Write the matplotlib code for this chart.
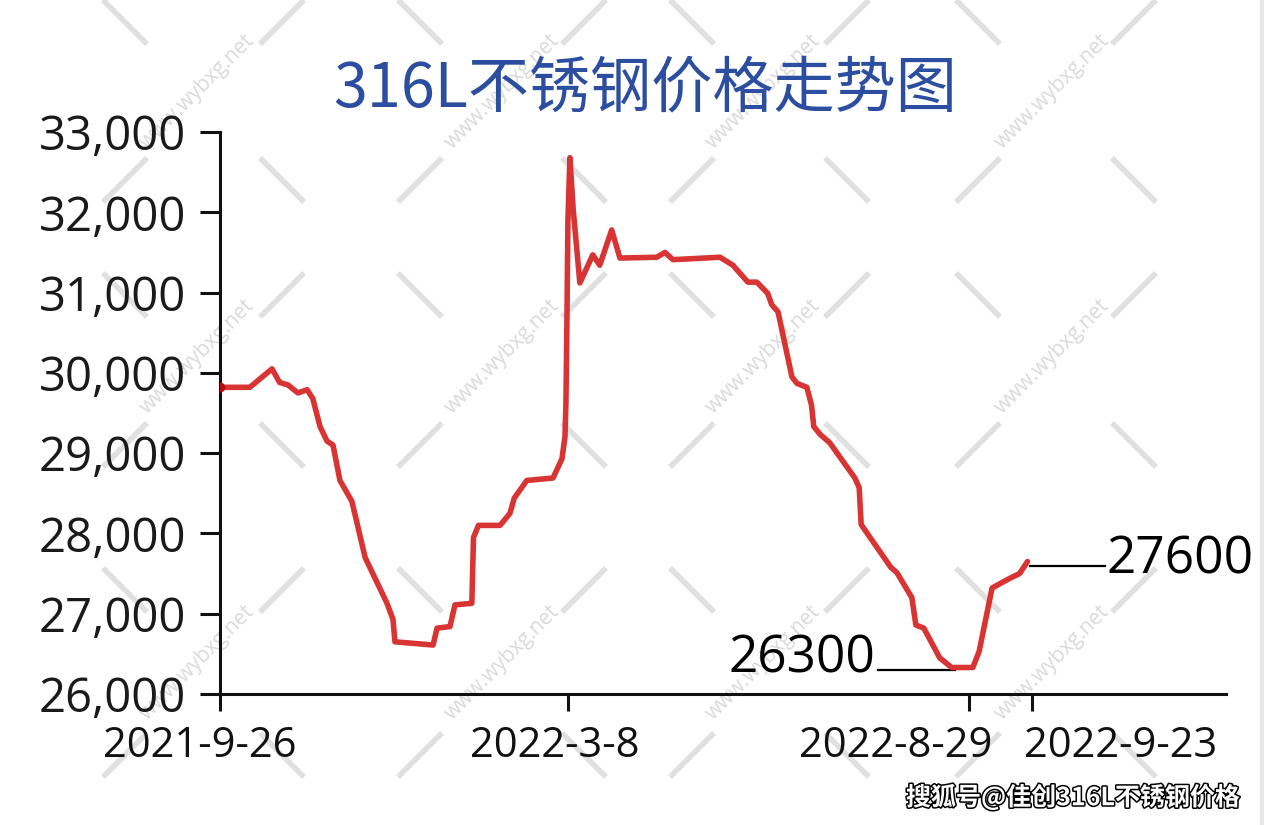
import matplotlib
matplotlib.use("Agg")
import matplotlib.pyplot as plt
import matplotlib.patheffects as pe
from matplotlib.transforms import ScaledTranslation

# ---------------- data ----------------
title = "316L不锈钢价格走势图"
footer = "搜狐号@佳创316L不锈钢价格"

# x = trading-day index from 2021-9-26
day_index = [0, 9, 15.7, 18, 20.5, 23.5, 26.3, 28, 30.2, 32.3, 34.1, 36.2, 39.8,
             43.8, 50.4, 52.2, 52.8, 64.3, 65.5, 69.4, 70.9, 76, 76.5, 78,
             84.5, 87.5, 88.8, 92.6, 100.5, 103.2, 104.1, 104.4, 104.7, 105.0,
             105.6, 106.6, 108.6, 112.5, 114.6, 118.2, 120.7, 131.8, 134.3,
             136.7, 150.9, 154.8, 159.3, 162, 165.3, 166.5, 168.4, 172.6, 174.1,
             177.1, 178.5, 179.2, 181.2, 184.0, 191.6, 192.9, 193.5, 202.4,
             204.3, 208.8, 210.0, 212.4, 217.2, 220.8, 227.2, 229.1, 233.0,
             238.3, 241.3, 243.7]
price = [29820, 29820, 30050, 29880, 29850, 29750, 29790, 29680, 29330, 29150,
         29100, 28660, 28400, 27700, 27130, 26930, 26650, 26610, 26820, 26840,
         27110, 27130, 27950, 28100, 28100, 28250, 28440, 28660, 28690, 28930,
         29200, 29620, 30660, 31900, 32680, 32030, 31120, 31470, 31340, 31780,
         31430, 31440, 31500, 31410, 31440, 31340, 31130, 31130, 30990, 30850,
         30760, 29950, 29870, 29820, 29600, 29330, 29230, 29130, 28690, 28570,
         28110, 27580, 27510, 27200, 26860, 26820, 26450, 26330, 26330, 26530,
         27320, 27440, 27500, 27650]

tick_pos = [0, 105, 226, 245]
tick_labels = ["2021-9-26", "2022-3-8", "2022-8-29", "2022-9-23"]
y_ticks = [26000, 27000, 28000, 29000, 30000, 31000, 32000, 33000]

low_value, high_value = 26300, 27600

# ---------------- layout ----------------
label_shift_px = [-20, -13, -73, 89]     # horizontal shift of x tick labels
low_line = (198.5, 221.8)
high_line = (244.4, 267.0)

W, H = 1266, 825
fig = plt.figure(figsize=(W / 100, H / 100), dpi=100)

# watermark layer (pixel coordinates)
wm = fig.add_axes([0, 0, 1, 1], zorder=0)
wm.set_xlim(0, W)
wm.set_ylim(H, 0)
wm.axis("off")
col_a = [125, 420, 692, 978]
col_b = [282, 584, 847, 1134]
rows = [22, 180, 295, 445, 590, 755]
d = 22
for r, y in enumerate(rows):
    for xa, xb in zip(col_a, col_b):
        for x, back in ((xa, r % 2 == 0), (xb, r % 2 == 1)):
            if back:
                wm.plot([x - d, x + d], [y - d, y + d], color="#e0e0e0", lw=4,
                        solid_capstyle="butt")
            else:
                wm.plot([x - d, x + d], [y + d, y - d], color="#e0e0e0", lw=4,
                        solid_capstyle="butt")
for x in [197, 502, 763, 1052]:
    for y in [92, 357, 663]:
        wm.text(x, y, "www.wybxg.net", rotation=45, ha="center", va="center",
                rotation_mode="anchor", color="#dadada", fontsize=15,
                family="Open Sans")
wm.plot([1262, 1262], [0, H], color="#e8e8e8", lw=3)

# main axes
ax = fig.add_axes([220 / W, 1 - 694 / H, (1226 - 220) / W, (694 - 132) / H],
                  zorder=1)
ax.patch.set_alpha(0)
ax.plot(day_index, price, color="#d93434", lw=4.0, solid_joinstyle="round",
        solid_capstyle="round", zorder=3)
ax.plot(day_index[0], price[0], "o", color="#b01010", ms=6, zorder=4)

ax.set_xlim(0, 303.6)
ax.set_ylim(26000, 33000)
for s in ("top", "right"):
    ax.spines[s].set_visible(False)
for s in ("left", "bottom"):
    ax.spines[s].set_linewidth(2.2)
    ax.spines[s].set_color("#111111")

ax.set_yticks(y_ticks)
ax.set_yticklabels([f"{v:,}" for v in y_ticks], family="Open Sans",
                   fontsize=34, color="#1a1a1a")
ax.set_xticks(tick_pos)
ax.set_xticklabels(tick_labels, family="Open Sans", fontsize=30,
                   color="#111111")
ax.tick_params(axis="y", length=14.5, width=2.2, pad=10, color="#111111")
ax.tick_params(axis="x", length=12, width=2.2, pad=10, color="#111111")
for lab, dx in zip(ax.get_xticklabels(), label_shift_px):
    lab.set_transform(lab.get_transform() +
                      ScaledTranslation(dx / 100, 0, fig.dpi_scale_trans))

# annotations
ax.plot(low_line, [low_value, low_value], color="black", lw=1.6)
ax.plot(high_line, [high_value, high_value], color="black", lw=1.6)
ax.annotate(f"{low_value}", xy=(low_line[0], low_value), xytext=(-2, 8),
            textcoords="offset points", ha="right", va="center",
            family="Open Sans", fontsize=37, color="black")
ax.annotate(f"{high_value}", xy=(high_line[1], high_value), xytext=(1, 4),
            textcoords="offset points", ha="left", va="center",
            family="Open Sans", fontsize=37, color="black")

# title and footer
fig.text(645 / W, 1 - 89 / H, title, ha="center", va="center",
         family=["Noto Sans CJK SC", "DejaVu Sans"], fontsize=44,
         color="#2b4ea0")
fig.text(1240 / W, 1 - 797 / H, footer, ha="right", va="center",
         family=["Noto Sans CJK SC", "DejaVu Sans"], fontsize=18,
         color="white", fontweight="bold",
         path_effects=[pe.withStroke(linewidth=2.2, foreground="black")])

fig.savefig("out.png", dpi=100, facecolor="white")
